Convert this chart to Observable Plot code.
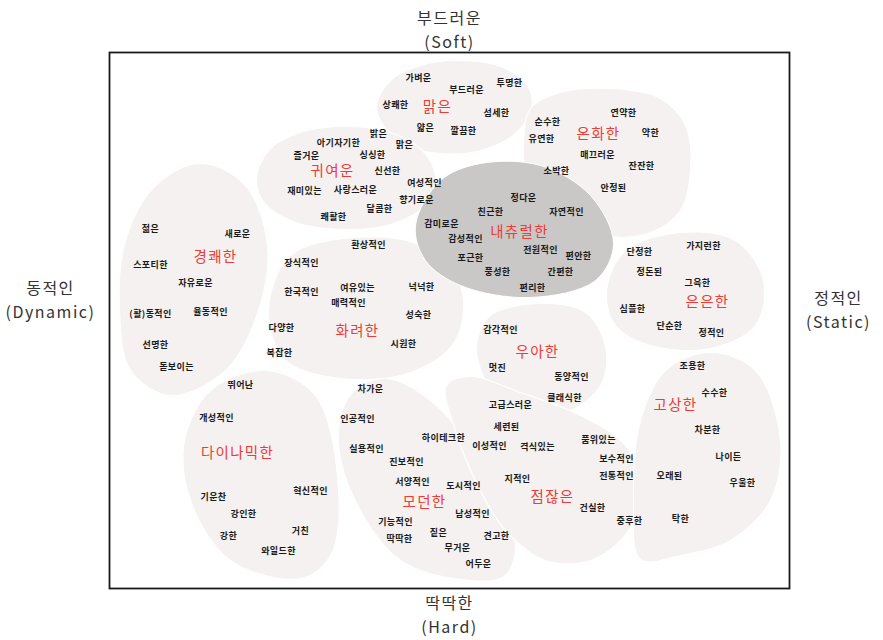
<!DOCTYPE html>
<html><head><meta charset="utf-8">
<script src="https://cdn.jsdelivr.net/npm/d3@7"></script>
<script src="https://cdn.jsdelivr.net/npm/@observablehq/plot@0.6"></script>
<style>
body{margin:0;background:#fff;}
g[fill="#ef3b36"]{letter-spacing:1.3px;}
g[fill="#1a1a1a"]{letter-spacing:0.4px;}
g[fill="#333333"]{letter-spacing:1.5px;}
</style>
</head><body><div id="chart"></div>
<script>
// Axis: x = dynamic(0) .. static(68), y = hard(0) .. soft(53.6)
const categories = ["맑은","온화한","귀여운","내츄럴한","경쾌한","화려한","은은한","우아한","다이나믹한","모던한","점잖은","고상한"];
const categoryX = [32.8,48.9,22.3,41.0,10.6,24.8,59.8,42.8,12.8,31.5,44.3,56.6];
const categoryY = [48.1,45.4,41.7,35.6,33.1,25.7,28.6,23.6,13.5,8.6,9.1,18.3];

const words = ["가벼운","부드러운","투명한","상쾌한","섬세한","얇은","깔끔한","밝은","맑은",
 "연약한","순수한","약한","유연한","매끄러운","잔잔한","소박한","안정된",
 "아기자기한","즐거운","싱싱한","신선한","여성적인","재미있는","사랑스러운","향기로운","달콤한","쾌활한",
 "정다운","친근한","자연적인","감미로운","감성적인","전원적인","편안한","포근한","풍성한","간편한","편리한",
 "젊은","새로운","스포티한","자유로운","(활)동적인","율동적인","선명한","돋보이는",
 "환상적인","장식적인","한국적인","여유있는","넉넉한","매력적인","성숙한","다양한","시원한","복잡한",
 "가지런한","단정한","정돈된","그윽한","심플한","단순한","정적인",
 "감각적인","멋진","동양적인","클래식한","고급스러운",
 "뛰어난","개성적인","혁신적인","기운찬","강인한","거친","강한","와일드한",
 "차가운","인공적인","세련된","하이테크한","이성적인","실용적인","진보적인","서양적인","도시적인","남성적인","기능적인","짙은","딱딱한","견고한","무거운","어두운",
 "격식있는","품위있는","보수적인","전통적인","지적인","건실한","중후한",
 "조용한","수수한","차분한","나이든","오래된","우울한","탁한"];
const wordX = [30.9,35.7,40.0,28.6,38.7,31.6,35.4,26.9,29.5,
 51.4,43.8,54.1,43.2,48.8,53.2,44.7,50.4,
 22.9,19.7,26.3,27.8,31.5,19.5,24.6,30.7,27.0,22.4,
 41.4,38.1,45.7,33.2,35.6,43.1,46.9,36.1,38.8,45.1,42.3,
 4.1,12.8,4.1,8.6,4.1,10.1,4.6,6.7,
 25.9,19.2,19.2,24.8,31.2,23.9,30.9,17.2,29.4,17.0,
 59.4,53.0,54.0,58.8,52.3,56.0,60.2,
 39.1,38.8,46.2,45.5,40.1,
 13.1,10.7,20.1,10.4,13.4,19.1,11.9,16.9,
 26.1,24.8,39.7,33.4,38.0,25.7,29.7,30.3,35.4,36.3,28.6,32.9,29.0,38.7,34.8,36.9,
 42.8,48.9,50.7,50.7,40.8,48.3,52.0,
 58.3,60.5,59.8,61.9,56.0,63.3,57.1];
const wordY = [51.0,49.8,50.5,48.3,47.5,46.0,45.7,45.4,44.3,
 47.5,46.6,45.5,44.9,43.3,42.2,41.7,40.0,
 44.5,43.2,43.3,41.7,40.5,39.7,39.8,38.8,37.9,37.1,
 39.0,37.6,37.6,36.4,34.9,33.8,33.2,33.0,31.6,31.6,30.0,
 35.9,35.4,32.3,30.5,27.4,27.6,24.3,22.1,
 34.3,32.5,29.6,30.0,30.1,28.5,27.3,26.0,24.4,23.5,
 34.2,33.6,31.6,30.5,27.9,26.2,25.5,
 25.8,22.0,21.1,19.0,18.3,
 20.3,17.0,9.7,9.1,7.4,5.7,5.2,3.7,
 19.9,16.9,16.1,15.0,14.2,13.9,12.6,10.6,10.2,7.4,6.6,5.5,4.9,5.2,4.0,2.4,
 14.1,14.8,12.9,11.2,10.9,8.0,6.7,
 22.2,19.5,15.8,13.1,11.2,10.5,6.9];

const axisTitles = ["부드러운","(Soft)","딱딱한","(Hard)","동적인","(Dynamic)","정적인","(Static)"];
const axisTitleX = [34.0,34.0,34.0,34.0,-5.9,-5.9,72.9,72.9];
const axisTitleY = [57.0,54.6,-1.5,-3.9,30.0,27.6,29.0,26.6];

// Cluster outlines (control points)
const blobNames = ["맑은","온화한","귀여운","경쾌한","화려한","은은한","우아한","다이나믹한","모던한","점잖은","고상한","내츄럴한"];
const blobShapes = [
 [[26.7,48.0],[28.1,50.8],[31.1,52.3],[34.9,52.8],[39.1,52.2],[41.8,50.3],[42.2,48.0],[40.6,45.5],[37.1,43.8],[33.1,43.5],[29.1,44.5]],
 [[41.4,44.8],[42.1,48.0],[45.1,49.6],[50.1,50.0],[55.1,49.0],[57.6,46.3],[58.1,41.8],[57.1,37.8],[54.1,35.6],[50.1,35.2],[46.1,36.6],[43.1,38.8],[41.6,41.8]],
 [[14.7,41.0],[15.9,43.8],[19.1,45.6],[23.6,46.2],[28.1,45.6],[31.3,43.8],[32.6,41.1],[31.6,38.3],[28.1,36.4],[23.1,35.9],[18.1,36.8],[15.3,38.8]],
 [[9.1,42.5],[13.6,40.3],[15.8,34.3],[14.9,27.8],[11.6,21.8],[6.1,19.3],[2.1,21.8],[1.0,27.8],[1.6,34.8],[4.6,40.3]],
 [[15.9,27.8],[18.1,33.3],[24.6,35.1],[31.1,34.3],[35.1,30.3],[34.6,24.8],[30.1,21.6],[23.1,21.0],[17.6,22.8]],
 [[49.7,29.8],[51.6,33.8],[57.1,35.6],[62.6,34.8],[65.4,30.8],[64.6,26.3],[60.1,24.0],[54.1,24.3],[50.6,26.3]],
 [[36.7,24.3],[38.1,27.3],[43.1,28.5],[47.6,27.6],[49.6,24.3],[49.1,20.3],[45.6,17.6],[41.1,17.8],[37.9,20.3]],
 [[15.6,21.8],[20.6,19.3],[22.9,9.8],[22.1,3.3],[19.1,1.0],[12.1,2.8],[8.1,8.8],[7.5,14.8],[10.1,19.8]],
 [[27.6,21.0],[32.1,18.8],[37.1,12.8],[40.6,5.3],[39.6,1.3],[36.1,0.8],[29.1,2.8],[24.1,9.8],[22.9,15.8],[24.3,19.6]],
 [[33.7,20.3],[36.1,21.2],[41.1,19.6],[47.1,17.3],[51.6,14.3],[53.1,10.3],[51.9,5.8],[48.1,2.8],[43.6,2.8],[39.6,5.8],[36.6,10.8],[34.6,15.8]],
 [[60.1,23.6],[64.6,21.8],[67.1,14.8],[66.1,8.8],[62.1,4.8],[57.1,3.3],[53.1,2.9],[52.4,8.8],[53.1,16.8],[55.6,21.8]],
 [[30.6,36.3],[33.1,40.8],[37.1,42.5],[43.1,42.3],[48.1,39.3],[50.4,34.5],[48.6,30.8],[42.1,29.1],[35.1,30.3],[31.6,32.8]]
];
const darkBlob = "내츄럴한";

const blobRows = blobNames.flatMap((n, i) => blobShapes[i].map(([x, y]) => ({blob: n, x, y})));
const lightRows = blobRows.filter(d => d.blob !== darkBlob);
const darkRows = blobRows.filter(d => d.blob === darkBlob);
const catRows = categories.map((t, i) => ({t, x: categoryX[i], y: categoryY[i]}));
const wordRows = words.map((t, i) => ({t, x: wordX[i], y: wordY[i]}));
const titleRows = axisTitles.map((t, i) => ({t, x: axisTitleX[i], y: axisTitleY[i]}));

const font = "'Noto Sans CJK KR', 'Noto Sans', sans-serif";

const chart = Plot.plot({
  width: 883,
  height: 640,
  marginLeft: 109,
  marginRight: 94,
  marginTop: 52,
  marginBottom: 52,
  x: {domain: [0, 68], axis: null},
  y: {domain: [0, 53.6], axis: null},
  style: {fontFamily: font, background: "#fff"},
  marks: [
    Plot.line(lightRows, {x: "x", y: "y", z: "blob", curve: "catmull-rom-closed", fill: "#f4f1f0", stroke: "#fff", strokeWidth: 1.2}),
    Plot.line(darkRows, {x: "x", y: "y", z: "blob", curve: "catmull-rom-closed", fill: "#cac8c7", stroke: "#fff", strokeWidth: 1}),
    Plot.frame({stroke: "#1a1a1a", strokeWidth: 1.8}),
    Plot.text(wordRows, {x: "x", y: "y", text: "t", fill: "#1a1a1a", fontSize: 9, fontWeight: "bold"}),
    Plot.text(catRows, {x: "x", y: "y", text: "t", fill: "#ef3b36", fontSize: 14.5}),
    Plot.text(titleRows, {x: "x", y: "y", text: "t", fill: "#333333", fontSize: 16})
  ]
});
document.getElementById("chart").appendChild(chart);
</script>
</body></html>
